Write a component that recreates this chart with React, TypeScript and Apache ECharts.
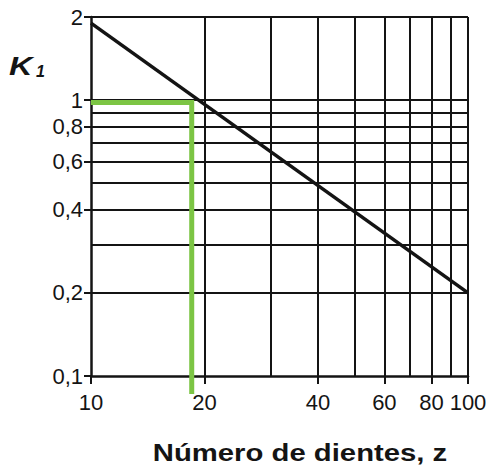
import React, { useEffect, useRef } from "react";
import * as echarts from "echarts";

const xTickValues = [10, 20, 40, 60, 80, 100];
const xGridValues = [20, 30, 40, 50, 60, 70, 80, 90, 100];
const yTickValues = [0.1, 0.2, 0.4, 0.6, 0.8, 1, 2];
const yGridValues = [0.2, 0.3, 0.4, 0.5, 0.6, 0.7, 0.8, 0.9, 1, 2];
const kLine = [
  [10, 1.9],
  [100, 0.2],
];
const greenPath = [
  [10, 0.98],
  [18.5, 0.98],
  [18.5, 0.086],
];
const xName = "Número de dientes, z";
const yName = "K";
const ySub = "1";

const FONT = "'Liberation Sans', Arial, Helvetica, sans-serif";
const INK = "#141414";

export default function App() {
  const ref = useRef<HTMLDivElement>(null);
  useEffect(() => {
    if (!ref.current) return;
    const chart = echarts.init(ref.current, null, { renderer: "svg" });
    const fmt = (v: number) => String(v).replace(".", ",");
    chart.setOption({
      animation: false,
      backgroundColor: "#ffffff",
      grid: { left: 91, right: 25, top: 17, bottom: 97, containLabel: false, outerBoundsMode: "none" },
      xAxis: [
        {
          type: "log",
          logBase: 10,
          min: 10,
          max: 100,
          position: "bottom",
          axisLine: { show: true, lineStyle: { color: INK, width: 2.5 } },
          axisTick: { show: true, length: 8, customValues: xTickValues, lineStyle: { color: INK, width: 2 } },
          axisLabel: {
            show: true,
            customValues: xTickValues,
            margin: 15,
            color: INK,
            fontSize: 22,
            fontFamily: FONT,
            formatter: fmt,
          },
          splitLine: { show: false },
        },
        {
          type: "log",
          logBase: 10,
          min: 10,
          max: 100,
          position: "top",
          axisLine: { show: false },
          axisTick: { show: false, customValues: xGridValues },
          axisLabel: { show: false },
          splitLine: { show: true, lineStyle: { color: INK, width: 2 } },
        },
      ],
      yAxis: [
        {
          type: "log",
          logBase: 10,
          min: 0.1,
          max: 2,
          position: "left",
          axisLine: { show: true, lineStyle: { color: INK, width: 2.5 } },
          axisTick: { show: true, length: 7, customValues: yTickValues, lineStyle: { color: INK, width: 2 } },
          axisLabel: {
            show: true,
            customValues: yTickValues,
            margin: 8,
            color: INK,
            fontSize: 22,
            fontFamily: FONT,
            formatter: fmt,
          },
          splitLine: { show: false },
        },
        {
          type: "log",
          logBase: 10,
          min: 0.1,
          max: 2,
          position: "right",
          axisLine: { show: false },
          axisTick: { show: false, customValues: yGridValues },
          axisLabel: { show: false },
          splitLine: { show: true, lineStyle: { color: INK, width: 2 } },
        },
      ],
      series: [
        {
          type: "line",
          xAxisIndex: 0,
          yAxisIndex: 0,
          data: kLine,
          symbol: "none",
          lineStyle: { color: INK, width: 3.5 },
          z: 3,
        },
        {
          type: "line",
          xAxisIndex: 0,
          yAxisIndex: 0,
          data: greenPath,
          symbol: "none",
          clip: false,
          lineStyle: { color: "#7cc544", width: 5, cap: "butt", join: "miter" },
          z: 4,
        },
      ],
      graphic: [
        {
          type: "text",
          x: 9,
          y: 66,
          scaleX: 1.3,
          style: {
            text: yName,
            fontSize: 25,
            fontWeight: "bold",
            fontStyle: "italic",
            fontFamily: FONT,
            fill: INK,
            textAlign: "left",
            textVerticalAlign: "middle",
          },
        },
        {
          type: "text",
          x: 36,
          y: 71,
          style: {
            text: ySub,
            fontSize: 16,
            fontWeight: "bold",
            fontStyle: "italic",
            fontFamily: FONT,
            fill: INK,
            textAlign: "left",
            textVerticalAlign: "middle",
          },
        },
        {
          type: "text",
          x: 300,
          y: 453,
          scaleX: 1.22,
          style: {
            text: xName,
            fontSize: 24,
            fontWeight: "bold",
            fontFamily: FONT,
            fill: INK,
            textAlign: "center",
            textVerticalAlign: "middle",
          },
        },
      ],
    });
    return () => chart.dispose();
  }, []);
  return (
    <div
      ref={ref}
      style={{ position: "fixed", left: 0, top: 0, width: 493, height: 473, background: "#fff" }}
    />
  );
}
